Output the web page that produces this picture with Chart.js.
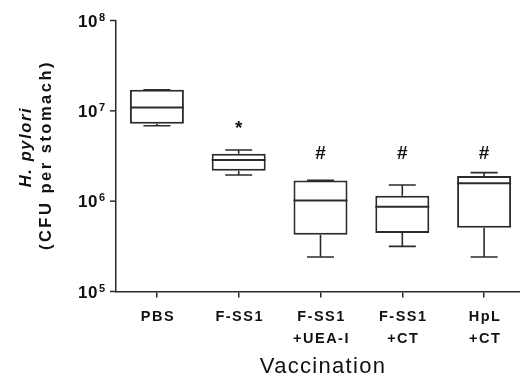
<!DOCTYPE html>
<html lang="en">
<head>
    <meta charset="UTF-8">
    <title>H. pylori per stomach after vaccination</title>
    <style>
        html, body { margin: 0; padding: 0; background: #fff; overflow: hidden; }
        #wrap { width: 525px; height: 379px; }
    </style>
</head>
<body>
    <div id="wrap"><canvas id="myChart"></canvas></div>
    <script src="https://cdn.jsdelivr.net/npm/chart.js@4.4.1/dist/chart.umd.min.js"></script>
    <script>

        // groups and box plot summaries (CFU per stomach)
        const groups = ['PBS', 'F-SS1', ['F-SS1', '+UEA-I'], ['F-SS1', '+CT'], ['HpL', '+CT']];
        const whiskerLow  = [6.84e6, 1.95e6, 2.41e5, 3.16e5, 2.41e5];
        const quartile1   = [7.20e6, 2.17e6, 4.26e5, 4.45e5, 5.08e5];
        const median      = [1.09e7, 2.86e6, 1.02e6, 8.69e5, 1.58e6];
        const quartile3   = [1.71e7, 3.35e6, 1.69e6, 1.15e6, 1.90e6];
        const whiskerHigh = [1.71e7, 3.68e6, 1.70e6, 1.51e6, 2.07e6];
        const sigMarks = ['', '*', '#', '#', '#'];
        const yTicks = [1e5, 1e6, 1e7, 1e8];

        const ink = '#111';
        const lineCol = '#2b2b2b';

        // median lines, whiskers and the significance marks
        const boxExtras = {
            id: 'boxExtras',
            afterDatasetsDraw(chart) {
                const ctx = chart.ctx;
                const y = chart.scales.y;
                const bars = chart.getDatasetMeta(0).data;
                ctx.save();
                ctx.strokeStyle = lineCol;
                bars.forEach((bar, i) => {
                    const cx = bar.x, half = bar.width / 2, cap = half / 2;
                    const yMed = y.getPixelForValue(median[i]);
                    const yQ1 = y.getPixelForValue(quartile1[i]);
                    const yQ3 = y.getPixelForValue(quartile3[i]);
                    const yLo = y.getPixelForValue(whiskerLow[i]);
                    const yHi = y.getPixelForValue(whiskerHigh[i]);

                    ctx.lineWidth = 2;
                    ctx.beginPath();
                    ctx.moveTo(cx - half, yMed); ctx.lineTo(cx + half, yMed);
                    ctx.stroke();

                    ctx.lineWidth = 1.6;
                    ctx.beginPath();
                    ctx.moveTo(cx, yQ3); ctx.lineTo(cx, yHi);
                    ctx.moveTo(cx - cap, yHi); ctx.lineTo(cx + cap, yHi);
                    ctx.moveTo(cx, yQ1); ctx.lineTo(cx, yLo);
                    ctx.moveTo(cx - cap, yLo); ctx.lineTo(cx + cap, yLo);
                    ctx.stroke();

                    if (sigMarks[i]) {
                        ctx.fillStyle = ink;
                        ctx.textAlign = 'center';
                        ctx.textBaseline = 'middle';
                        ctx.font = 'bold 19px Arial';
                        const top = chart.chartArea.top;
                        ctx.fillText(sigMarks[i], cx, sigMarks[i] === '*' ? top + 108 : top + 133);
                    }
                });
                ctx.restore();
            }
        };

        // axis labels: powers of ten with superscripts, spaced category names, titles
        const axisText = {
            id: 'axisText',
            afterDraw(chart) {
                const ctx = chart.ctx;
                const {x, y} = chart.scales;
                const left = chart.chartArea.left;
                ctx.save();
                ctx.fillStyle = ink;
                ctx.strokeStyle = lineCol;
                ctx.lineWidth = 1.5;

                yTicks.forEach(v => {
                    const py = y.getPixelForValue(v);
                    ctx.beginPath();
                    ctx.moveTo(left - 6, py); ctx.lineTo(left, py);
                    ctx.stroke();
                    ctx.letterSpacing = '0.5px';
                    ctx.textBaseline = 'alphabetic';
                    ctx.textAlign = 'right';
                    ctx.font = 'bold 17px Arial';
                    ctx.fillText('10', left - 18, py + 6);
                    ctx.textAlign = 'left';
                    ctx.font = 'bold 11px Arial';
                    ctx.fillText(String(Math.round(Math.log10(v))), left - 17, py);
                });

                ctx.textAlign = 'center';
                ctx.textBaseline = 'alphabetic';
                ctx.font = 'bold 14.5px Arial';
                ctx.letterSpacing = '1.5px';
                groups.forEach((g, i) => {
                    const px = x.getPixelForValue(i);
                    const lines = Array.isArray(g) ? g : [g];
                    lines.forEach((t, k) => ctx.fillText(t, px + 1, 321 + k * 22));
                });

                ctx.font = '22px Arial';
                ctx.letterSpacing = '1.3px';
                ctx.fillText('Vaccination', 323, 373);

                ctx.save();
                ctx.translate(31, 147);
                ctx.rotate(-Math.PI / 2);
                ctx.font = 'italic bold 16.5px Arial';
                ctx.letterSpacing = '1.6px';
                ctx.fillText('H. pylori', 0, 0);
                ctx.restore();
                ctx.save();
                ctx.translate(51, 155);
                ctx.rotate(-Math.PI / 2);
                ctx.font = 'bold 16.5px Arial';
                ctx.letterSpacing = '2.5px';
                ctx.fillText('(CFU per stomach)', 0, 0);
                ctx.restore();
                ctx.restore();
            }
        };

        const ctx = document.getElementById('myChart').getContext('2d');
        const myChart = new Chart(ctx, {
            type: 'bar',
            data: {
                labels: groups,
                datasets: [{
                    data: quartile1.map((q, i) => [q, quartile3[i]]),
                    backgroundColor: '#fff',
                    borderColor: lineCol,
                    borderWidth: 2,
                    borderSkipped: false,
                    barPercentage: 0.66,
                    categoryPercentage: 1
                }]
            },
            options: {
                responsive: true,
                maintainAspectRatio: false,
                animation: false,
                layout: { padding: { top: 20.5, left: 0, right: 0, bottom: 0 } },
                plugins: { legend: { display: false }, tooltip: { enabled: false } },
                scales: {
                    x: {
                        offset: true,
                        grid: { offset: false, drawOnChartArea: false, drawTicks: true, tickLength: 6, color: lineCol, lineWidth: 1.5 },
                        border: { display: true, color: lineCol, width: 1.5 },
                        ticks: { display: false },
                        afterFit: s => { s.height = 87.5; }
                    },
                    y: {
                        type: 'logarithmic',
                        min: 1e5,
                        max: 1e8,
                        grid: { display: false },
                        border: { display: true, color: lineCol, width: 1.5 },
                        ticks: { display: false },
                        afterFit: s => { s.width = 116; }
                    }
                }
            },
            plugins: [boxExtras, axisText]
        });
    </script>
</body>
</html>
